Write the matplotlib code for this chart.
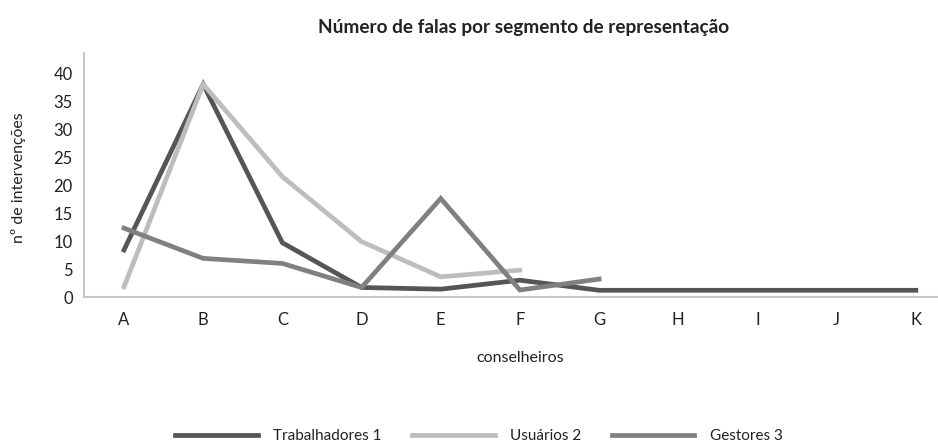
import matplotlib
matplotlib.use("Agg")
import matplotlib.pyplot as plt

plt.rcParams['font.family'] = ['Lato', 'DejaVu Sans']

categories = ["A", "B", "C", "D", "E", "F", "G", "H", "I", "J", "K"]
trabalhadores = [8.4, 38, 9.7, 1.7, 1.4, 3.0, 1.2, 1.2, 1.2, 1.2, 1.2]
usuarios = [1.8, 38, 21.5, 9.9, 3.6, 4.8]
gestores = [12.3, 6.9, 6.0, 1.7, 17.6, 1.25, 3.2]
series_names = ["Trabalhadores 1", "Usuários 2", "Gestores 3"]
colors = ["#555555", "#bdbdbd", "#808080"]
yticks = [0, 5, 10, 15, 20, 25, 30, 35, 40]

W, H = 938, 444
fig = plt.figure(figsize=(W / 100, H / 100), dpi=100)
ax = fig.add_axes([84 / W, 1 - 297 / H, 1 - 84 / W, (297 - 53) / H])

x = list(range(len(categories)))
for vals, name, c in zip([trabalhadores, usuarios, gestores], series_names, colors):
    ax.plot(x[:len(vals)], vals, color=c, lw=3.4, label=name, solid_joinstyle='miter')

ax.set_xlim(-0.505, 10.28)
ax.set_ylim(0, 43.6)
ax.set_xticks(x)
ax.set_xticklabels(categories)
ax.set_yticks(yticks)
ax.tick_params(axis='both', length=0, labelsize=12, colors='#222222')
ax.tick_params(axis='x', pad=11)
ax.tick_params(axis='y', pad=8)
for s in ['top', 'right']:
    ax.spines[s].set_visible(False)
for s in ['left', 'bottom']:
    ax.spines[s].set_color('#c8c8cc')
    ax.spines[s].set_linewidth(1.5)

fig.text(524 / W, 1 - 27 / H, "Número de falas por segmento de representação",
         ha='center', va='center', fontsize=13.7, fontweight='bold', color='#222222')
fig.text(18 / W, 1 - 178 / H, "nº de intervenções", rotation=90,
         ha='center', va='center', fontsize=11.4, color='#222222')
fig.text(520 / W, 1 - 358 / H, "conselheiros", ha='center', va='center',
         fontsize=11.5, color='#222222')

handles, labels = ax.get_legend_handles_labels()
fig.legend(handles, labels, loc='center', bbox_to_anchor=(479 / W, 1 - 436 / H),
           ncol=3, frameon=False, fontsize=11, handlelength=5.4,
           columnspacing=2.0, handletextpad=1.0, labelcolor='#222222')

fig.savefig("out.png", dpi=100)
